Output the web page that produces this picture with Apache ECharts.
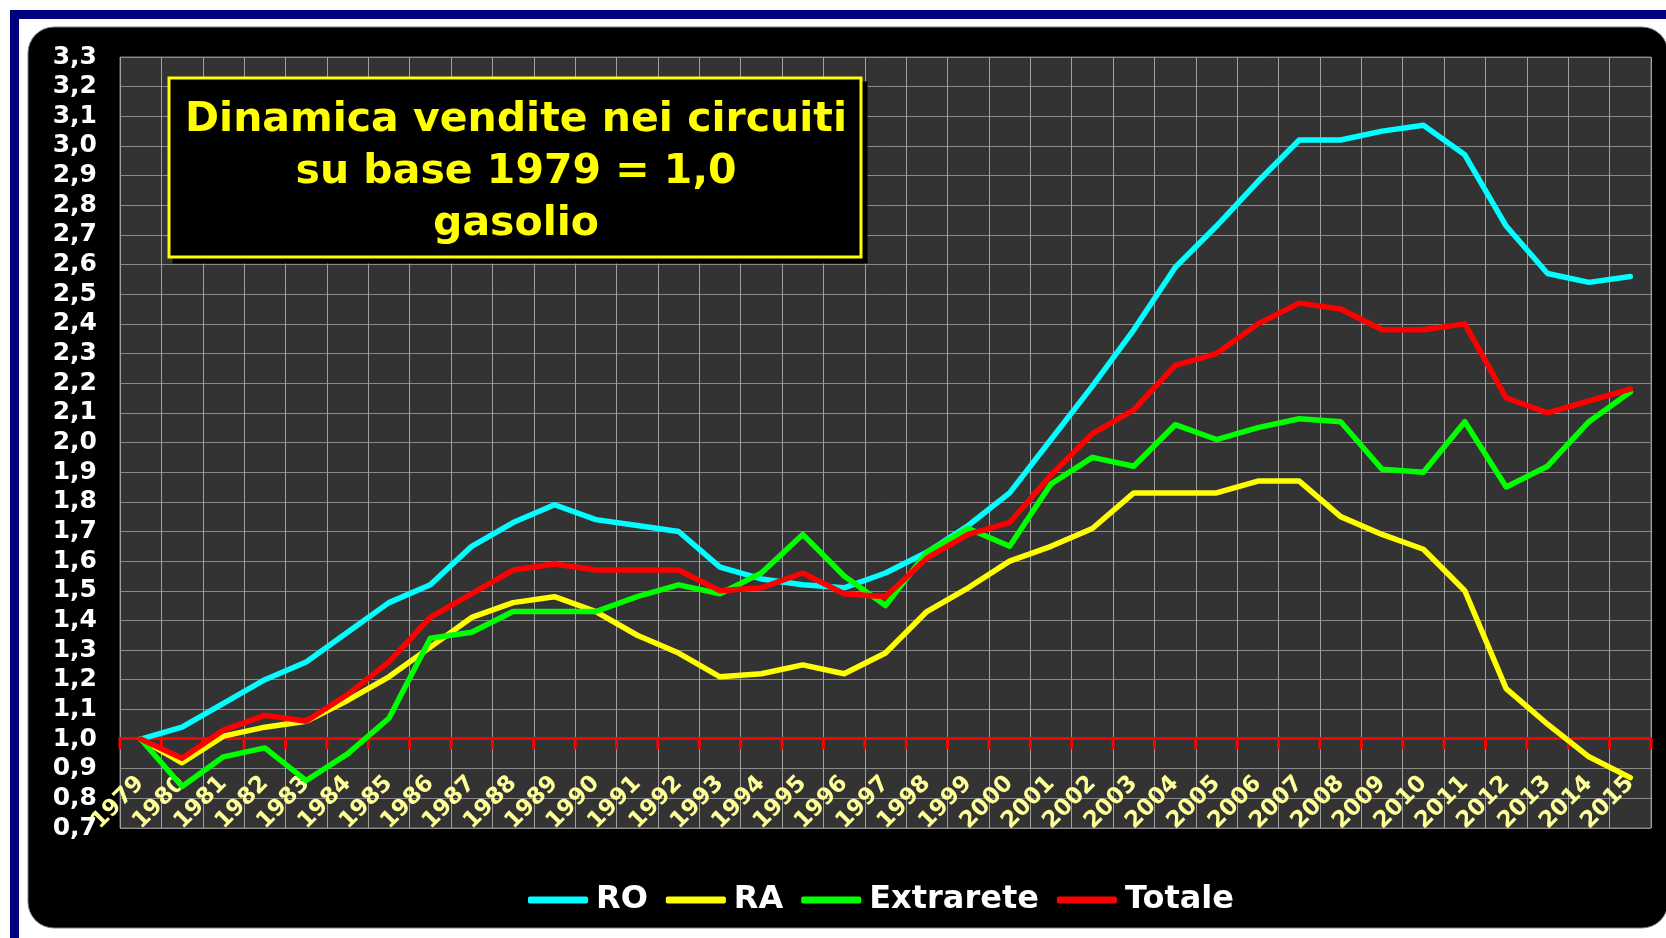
<!DOCTYPE html>
<html>
<head>
<meta charset="utf-8">
<script src="https://cdn.jsdelivr.net/npm/echarts@6/dist/echarts.min.js"></script>
<style>
  html, body { margin: 0; padding: 0; background: #ffffff; }
  #chart { width: 1666px; height: 938px; }
</style>
</head>
<body>
<div id="chart"></div>
<script>
var anni = ["1979", "1980", "1981", "1982", "1983", "1984", "1985", "1986", "1987", "1988",
  "1989", "1990", "1991", "1992", "1993", "1994", "1995", "1996", "1997", "1998",
  "1999", "2000", "2001", "2002", "2003", "2004", "2005", "2006", "2007", "2008",
  "2009", "2010", "2011", "2012", "2013", "2014", "2015"];

// indici su base 1979 = 1,0
var ro = [1.00, 1.04, 1.12, 1.20, 1.26, 1.36, 1.46, 1.52, 1.65, 1.73, 1.79,
  1.74, 1.72, 1.70, 1.58, 1.54, 1.52, 1.51, 1.56, 1.63, 1.72,
  1.83, 2.01, 2.19, 2.38, 2.59, 2.73, 2.88, 3.02, 3.02, 3.05,
  3.07, 2.97, 2.73, 2.57, 2.54, 2.56];
var ra = [1.00, 0.92, 1.01, 1.04, 1.06, 1.13, 1.21, 1.31, 1.41, 1.46, 1.48,
  1.43, 1.35, 1.29, 1.21, 1.22, 1.25, 1.22, 1.29, 1.43, 1.51,
  1.60, 1.65, 1.71, 1.83, 1.83, 1.83, 1.87, 1.87, 1.75, 1.69,
  1.64, 1.50, 1.17, 1.05, 0.94, 0.87];
var extrarete = [1.00, 0.84, 0.94, 0.97, 0.86, 0.95, 1.07, 1.34, 1.36, 1.43, 1.43,
  1.43, 1.48, 1.52, 1.49, 1.56, 1.69, 1.55, 1.45, 1.63, 1.71,
  1.65, 1.86, 1.95, 1.92, 2.06, 2.01, 2.05, 2.08, 2.07, 1.91,
  1.90, 2.07, 1.85, 1.92, 2.07, 2.17];
var totale = [1.00, 0.935, 1.03, 1.08, 1.06, 1.15, 1.26, 1.41, 1.49, 1.57, 1.59,
  1.57, 1.57, 1.57, 1.50, 1.51, 1.56, 1.49, 1.48, 1.61, 1.69,
  1.73, 1.89, 2.03, 2.11, 2.26, 2.30, 2.40, 2.47, 2.45, 2.38,
  2.38, 2.40, 2.15, 2.10, 2.14, 2.18];

var titolo = "Dinamica vendite nei circuiti\nsu base 1979 = 1,0\ngasolio";
var font = "DejaVu Sans";
var base = 1.0; // livello dell'asse rosso

function serie(nome, dati, colore) {
  return {
    name: nome,
    type: "line",
    data: dati,
    showSymbol: false,
    symbol: "none",
    animation: false,
    lineStyle: { color: colore, width: 5.5, cap: "round", join: "round" },
    itemStyle: { color: colore }
  };
}

// tacche rosse sotto l'asse, ai confini delle categorie
function tacca(x, y) {
  return {
    type: "line",
    shape: { x1: x, y1: y, x2: x, y2: y + 9 },
    style: { stroke: "#ff0000", lineWidth: 3, lineCap: "round" }
  };
}
function disegnaTacche(params, api) {
  var p = api.coord([params.dataIndex, base]);
  var w = api.size([1, 0])[0];
  var figli = [tacca(p[0] - w / 2, p[1])];
  if (params.dataIndex === anni.length - 1) {
    figli.push(tacca(p[0] + w / 2, p[1]));
  }
  return { type: "group", children: figli };
}

var myChart = echarts.init(document.getElementById("chart"));
myChart.setOption({
  backgroundColor: "#ffffff",
  animation: false,
  graphic: [
    // cornice blu
    { type: "rect", z: -100, shape: { x: 10, y: 10, width: 1656, height: 9 }, style: { fill: "#000080" } },
    { type: "rect", z: -100, shape: { x: 10, y: 10, width: 9, height: 928 }, style: { fill: "#000080" } },
    // pannello nero arrotondato
    {
      type: "rect", z: -99,
      shape: { x: 28, y: 27, width: 1640, height: 901, r: 26 },
      style: { fill: "#000000", stroke: "#808080", lineWidth: 1 }
    },
    // riquadro titolo
    {
      type: "rect", z: 100,
      shape: { x: 169, y: 78, width: 692, height: 179 },
      style: {
        fill: "#000000", stroke: "#ffff00", lineWidth: 3,
        shadowColor: "rgba(0,0,0,1)", shadowOffsetX: 5, shadowOffsetY: 5, shadowBlur: 0
      }
    },
    {
      type: "text", z: 101,
      x: 516, y: 172,
      style: {
        text: titolo,
        fill: "#ffff00",
        font: "bold 41px " + font,
        lineHeight: 52,
        align: "center",
        verticalAlign: "middle"
      }
    }
  ],
  grid: {
    left: 120,
    right: 15,
    top: 57,
    bottom: 110,
    show: true,
    backgroundColor: "#333333",
    borderColor: "#808080",
    borderWidth: 1
  },
  legend: {
    left: 523,
    top: 879,
    icon: "roundRect",
    itemWidth: 60,
    itemHeight: 7,
    itemGap: 18,
    textStyle: {
      color: "#ffffff",
      fontSize: 32,
      fontWeight: "bold",
      fontFamily: font,
      padding: [0, 0, 0, 3]
    },
    data: ["RO", "RA", "Extrarete", "Totale"]
  },
  xAxis: {
    type: "category",
    data: anni,
    boundaryGap: true,
    position: "bottom",
    offset: -90,
    axisLine: { show: true, lineStyle: { color: "#ff0000", width: 3 } },
    axisTick: { show: false },
    axisLabel: {
      interval: 0,
      rotate: 45,
      margin: 42,
      color: "#ffff99",
      fontSize: 23,
      fontWeight: "bold",
      fontFamily: font
    },
    splitLine: { show: true, interval: 0, lineStyle: { color: "#a0a0a0", width: 1 } }
  },
  yAxis: {
    type: "value",
    min: 0.7,
    max: 3.3,
    interval: 0.1,
    axisLine: { show: false },
    axisTick: { show: false },
    axisLabel: {
      margin: 23,
      color: "#ffffff",
      fontSize: 25,
      fontWeight: "bold",
      fontFamily: font,
      formatter: function (v) {
        return v.toFixed(1).replace(".", ",");
      }
    },
    splitLine: { show: true, lineStyle: { color: "#8a8a8a", width: 1 } }
  },
  series: [
    {
      name: "tacche",
      type: "custom",
      data: anni,
      z: 1,
      silent: true,
      renderItem: disegnaTacche
    },
    serie("RO", ro, "#00ffff"),
    serie("RA", ra, "#ffff00"),
    serie("Extrarete", extrarete, "#00ff00"),
    serie("Totale", totale, "#ff0000")
  ]
});
</script>
</body>
</html>
